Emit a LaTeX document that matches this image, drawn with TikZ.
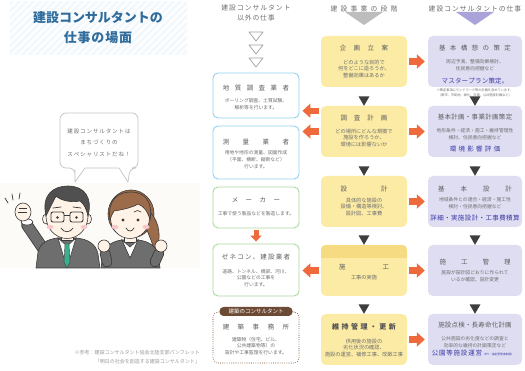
\documentclass[tikz,border=0pt]{standalone}
\usepackage{fontspec}
\setmainfont{Noto Sans CJK JP}
\usetikzlibrary{arrows.meta,calc}

\definecolor{ttlblue}{HTML}{2F6C9C}
\definecolor{stripeblue}{HTML}{F2F8FC}
\definecolor{hdrgray}{HTML}{6E6E6E}
\definecolor{ttlgray}{HTML}{5E5E5E}
\definecolor{smgray}{HTML}{6E6E6E}
\definecolor{ylw}{HTML}{FCEBA4}
\definecolor{ylwdark}{HTML}{F6DB82}
\definecolor{prp}{HTML}{DFDDF2}
\definecolor{prptri}{HTML}{A9A3D9}
\definecolor{graytri}{HTML}{BDBDBD}
\definecolor{darktri}{HTML}{3E3E3E}
\definecolor{orng}{HTML}{EE6A3D}
\definecolor{skyline}{HTML}{90D2F0}
\definecolor{leafline}{HTML}{ACDA9C}
\definecolor{brownbd}{HTML}{9A7860}
\definecolor{browntag}{HTML}{6C4A34}
\definecolor{bluetxt}{HTML}{3A3AA6}
\definecolor{suit}{HTML}{6E6E6E}
\definecolor{inkline}{HTML}{3A3A3A}
\definecolor{skin}{HTML}{FFF2E6}
\definecolor{cheek}{HTML}{F8C8C8}
\definecolor{hairdark}{HTML}{505050}
\definecolor{hairbrown}{HTML}{9C6C4A}
\definecolor{tiegreen}{HTML}{3BAE8E}
\definecolor{bubbleline}{HTML}{C4C4C4}
\definecolor{notegray}{HTML}{9A9A9A}
\definecolor{band}{HTML}{FCFBF7}
\definecolor{ijigray}{HTML}{505050}

\newcommand\fsz[2]{\fontsize{#1}{#2}\selectfont}
% put a fixed gap between the characters of a word
\makeatletter
\newcommand\spreadtxt[2]{\def\spr@gap{\hspace{#1}}\spr@loop#2\relax}
\def\spr@loop#1#2{#1\ifx\relax#2\else\spr@gap\expandafter\spr@loop\fi#2}
\makeatother

\tikzset{
  hdr/.style={font=\fsz{6.8}{10}, text=hdrgray, inner sep=0pt, align=center},
  ttl/.style={font=\fsz{6.5}{8}, text=ttlgray, inner sep=0pt},
  small/.style={font=\fsz{4.8}{6.8}, text=smgray, inner sep=0pt, align=center},
  midsmall/.style={small, font=\fsz{5.2}{6.6}},
  bluelabel/.style={font=\fsz{6.5}{8}, text=bluetxt, inner sep=0pt},
  stagebox/.style={fill=ylw, rounded corners=5pt, minimum width=86pt, minimum height=51pt, inner sep=0pt},
  taskbox/.style={fill=prp, rounded corners=5pt, minimum width=94pt, minimum height=51pt, inner sep=0pt},
  otherbox/.style={draw, fill=white, line width=0.9pt, rounded corners=5pt, minimum width=86pt, inner sep=0pt},
  skybox/.style={otherbox, draw=skyline},
  leafbox/.style={otherbox, draw=leafline},
  blockarrow/.style={draw=orng, line width=6.5pt, -{Triangle[width=14pt,length=8pt]}, shorten <=2pt, shorten >=3pt},
  smallarrow/.style={draw=orng, line width=5pt, -{Triangle[width=11pt,length=6pt]}, shorten <=2pt, shorten >=2pt},
  downtri/.pic={\fill[darktri] (-5.5,-9.5) -- (5.5,-9.5) -- (0,0) -- cycle;},
  ink/.style={draw=inkline, line width=0.6pt},
}

\begin{document}
\begin{tikzpicture}[x=1pt,y=-1pt]
\useasboundingbox (0,0) rectangle (525,371);
\fill[white] (0,0) rectangle (525,371);

% ---------- title with striped background ----------
\begin{scope}
  \clip (10,2) rectangle (187,55);
  \foreach \i in {-60,-53,...,200} \draw[stripeblue, line width=2.5pt] (\i,60) -- (\i+60,0);
\end{scope}
\node[font=\fsz{13}{15}\bfseries, text=ttlblue, inner sep=0pt] (title1) at (98,18) {建設コンサルタントの};
\node[font=\fsz{13}{15}\bfseries, text=ttlblue, inner sep=0pt] (title2) at (98,38) {\spreadtxt{0.8pt}{仕事の場面}};

% ---------- column headers ----------
\fill[graytri] (345,12) -- (383,12) -- (364,25) -- cycle;
\fill[prptri] (456,12) -- (494,12) -- (475,25) -- cycle;
\node[hdr] (hdrL) at (256,13) {\spreadtxt{1pt}{建設コンサルタント}\\\spreadtxt{0.8pt}{以外の仕事}};
\node[hdr] (hdrM) at (364,9) {\spreadtxt{3.2pt}{建設事業の段階}};
\node[hdr] (hdrR) at (475,9) {\spreadtxt{1pt}{建設コンサルタントの仕事}};
\foreach \ty in {32,45,58}
  \draw[draw=gray!75, fill=white, line width=0.7pt, line join=round] (249,\ty) -- (263,\ty) -- (256,\ty+9) -- cycle;

% ---------- stages of a construction project ----------
\node[stagebox] (kikaku) at (364,61.5) {};
\node[stagebox] (chousa) at (364,131.5) {};
\node[stagebox] (sekkei) at (364,201.5) {};
\node[stagebox] (sekou)  at (364,270.5) {};
\node[stagebox] (iji)    at (364,339.5) {};
\begin{scope}
  \clip[rounded corners=5pt] (sekou.south west) rectangle (sekou.north east);
  \fill[ylwdark] (sekou.north west) rectangle ($(sekou.north east)+(0,13)$);
\end{scope}

\node[ttl] (kikakuT) at (364,48) {\spreadtxt{7.5pt}{企画立案}};
\node[midsmall] (kikakuB) at (364,69) {どのような目的で\\何をどこに造ろうか、\\整備効果はあるか};
\node[ttl] (chousaT) at (364,118) {\spreadtxt{7pt}{調査計画}};
\node[midsmall] (chousaB) at (364,138) {どの場所にどんな規模で\\施設を作ろうか、\\環境には影響ないか};
\node[ttl] (sekkeiT) at (364,189) {\spreadtxt{34pt}{設計}};
\node[midsmall] (sekkeiB) at (364,207) {具体的な施設の\\設備・構造等検討、\\設計図、工事費};
\node[ttl] (sekouT) at (364,267) {\spreadtxt{37pt}{施工}};
\node[midsmall] (sekouB) at (364,278) {工事の実施};
\node[ttl, font=\fsz{7}{8}\bfseries, text=ijigray] (ijiT) at (364,327) {\spreadtxt{2.5pt}{維持管理・更新}};
\node[midsmall] (ijiB) at (364,348) {供用後の施設の\\劣化状況の確認、\\施設の運営、補修工事、改築工事};

% ---------- consultant's work ----------
\node[taskbox] (kousou)  at (475,61.5) {};
\node[taskbox] (keikaku) at (475,131.5) {};
\node[taskbox] (kihon)   at (475,201.5) {};
\node[taskbox] (kanri)   at (475,270.5) {};
\node[taskbox] (tenken)  at (475,339.5) {};

\node[ttl] (kousouT) at (475,48) {\spreadtxt{4.4pt}{基本構想の策定}};
\node[small] (kousouB) at (475,65.5) {周辺予測、整備効果検討、\\住民意向把握など};
\node[bluelabel] (kousouL) at (475,81) {\spreadtxt{0.2pt}{マスタープラン策定。}};
\node[small, font=\fsz{3.2}{5.2}] (kousouN) at (475,92.5) {※策定事項にランドマーク等の計画を含めています。\\（都市、市街地、緑化、交通、公共施設計画など）};
\node[ttl] (keikakuT) at (475,117) {\spreadtxt{0.3pt}{基本計画・事業計画策定}};
\node[small] (keikakuB) at (475,134) {地形条件・経済・施工・維持管理性\\検討、住民意向把握など};
\node[bluelabel] (keikakuL) at (475,149) {\spreadtxt{2.3pt}{環境影響評価}};
\node[ttl] (kihonT) at (475,189) {\spreadtxt{16pt}{基本設計}};
\node[small] (kihonB) at (475,203) {地域条件との適合・経済・施工性\\検討・住民意向把握など};
\node[bluelabel] (kihonL) at (475,218) {\spreadtxt{0.4pt}{詳細・実施設計・工事費積算}};
\node[ttl] (kanriT) at (475,262) {\spreadtxt{15pt}{施工管理}};
\node[small] (kanriB) at (475,276) {施設が設計図どおりに作られて\\いるか確認、設計変更};
\node[ttl] (tenkenT) at (475,325) {\spreadtxt{0.2pt}{施設点検・長寿命化計画}};
\node[small] (tenkenB) at (475,342) {公共施設の劣化度などの調査と\\効率的な維持の計画策定など};
\node[bluelabel] (tenkenL) at (473,353) {\spreadtxt{0.8pt}{公園等施設運営}{\fsz{2.8}{4}（PFI・指定管理者制度）}};

% ---------- other trades ----------
\node[skybox, minimum height=45pt] (chishitsu) at (256,95.5) {};
\node[skybox, minimum height=53pt] (sokuryo) at (256,152.5) {};
\node[leafbox, minimum height=41pt] (maker) at (256,207.5) {};
\node[leafbox, minimum height=52pt] (zenecon) at (256,270) {};
\node[otherbox, draw=brownbd, line width=1.1pt, dash pattern=on 0.01pt off 2.2pt, line cap=round, minimum height=51pt] (kenchiku) at (256,337.5) {};
\node[fill=browntag, rounded corners=4pt, minimum width=73pt, minimum height=9pt, inner sep=0pt, text=white, font=\fsz{5.5}{6}] (tag) at (256,311.5) {建築のコンサルタント};

\node[ttl] (chishitsuT) at (256,88) {\spreadtxt{5.5pt}{地質調査業者}};
\node[small] (chishitsuB) at (256,104.5) {ボーリング調査、土質試験、\\解析等を行います。};
\node[ttl] (sokuryoT) at (256,142) {\spreadtxt{13.5pt}{測量業者}};
\node[small] (sokuryoB) at (256,159.5) {用地や地形の測量、図面作成\\（平面、横断、縦断など）\\行います。};
\node[ttl] (makerT) at (256,200) {\spreadtxt{7.5pt}{メーカー}};
\node[small] (makerB) at (256,214) {工事で使う製品などを製造します。};
\node[ttl] (zeneconT) at (256,257) {\spreadtxt{1.2pt}{ゼネコン、建設業者}};
\node[small] (zeneconB) at (256,278) {道路、トンネル、橋梁、河川、\\公園などの工事を\\行います。};
\node[ttl] (kenchikuT) at (256,327) {\spreadtxt{8.5pt}{建築事務所}};
\node[small] (kenchikuB) at (256,346) {建築物（住宅、ビル、\\公共建築物等）の\\設計や工事監理を行います。};

% ---------- flow between stages ----------
\pic at (chousa.north) {downtri};
\pic at (sekkei.north) {downtri};
\pic at (sekou.north) {downtri};
\pic at (iji.north) {downtri};
\pic at (keikaku.north) {downtri};
\pic at (kihon.north) {downtri};
\pic at (kanri.north) {downtri};
\pic at (tenken.north) {downtri};

\draw[blockarrow] (kikaku.east) -- (kousou.west);
\draw[blockarrow] (chousa.east) -- (keikaku.west);
\draw[blockarrow] (sekkei.east) -- (kihon.west);
\draw[blockarrow] (sekou.east) -- (kanri.west);
\draw[blockarrow] (iji.east) -- (tenken.west);
\coordinate (chousaUp) at ($(chousa.north west)+(0,5)$);
\draw[blockarrow] (chousaUp) -- (chishitsu.east |- chousaUp);
\draw[blockarrow] (chousa.west) -- (sokuryo.east |- chousa.west);
\draw[blockarrow] (sekou.west) -- (zenecon.east |- sekou.west);
\draw[smallarrow] (maker.south) -- (zenecon.north);

% ---------- speech bubble ----------
\draw[bubbleline, fill=white, line width=0.7pt, line join=round, rounded corners=6pt]
  (60,113) -- (138,113) -- (138,168) -- (130,168) [sharp corners] -- (128,182) -- (119,168)
  -- (85,168) -- (75,182) -- (75,170) [rounded corners=6pt] -- (75,168) -- (60,168) -- cycle;
\node[font=\fsz{5.5}{11.5}, text=smgray, align=center, inner sep=0pt] (bubbletext) at (99,142.5)
  {\spreadtxt{0.9pt}{建設コンサルタントは}\\\spreadtxt{0.9pt}{まちづくりの}\\\spreadtxt{0.9pt}{スペシャリストだね！}};

% ---------- two consultants ----------
\fill[band] (0,183) rectangle (200,268);

% man: raised arm and fist
\draw[inkline, line width=11.6pt, line cap=round] (44,250) -- (27,225);
\draw[suit, line width=10pt, line cap=round] (44,250) -- (27,225);
\draw[ink, fill=white] (27,222) ellipse (6 and 3);
\draw[ink, fill=skin] (23,212) ellipse (8 and 9);
\draw[ink] (19,208) -- (27,208) (18,212) -- (27,212);
\draw[inkline, line width=0.7pt, line cap=round] (8,203) -- (5,198) (13,200) -- (12,194) (19,199) -- (20,193);
% man: body
\draw[ink, fill=suit] (36,268) -- (38,252) .. controls (40,243) and (48,239) .. (58,238) -- (76,238) .. controls (88,239) and (96,244) .. (98,254) -- (100,268) -- cycle;
\draw[ink, fill=skin] (61,228) rectangle (73,240);
\draw[ink, fill=white] (58,238) -- (67,246) -- (76,238) -- (70,258) -- (64,258) -- cycle;
\draw[inkline, line width=0.4pt, fill=tiegreen] (65,244) -- (69,244) -- (70,262) -- (67,268) -- (64,262) -- cycle;
% man: head
\draw[ink, fill=skin] (46,219) ellipse (3.5 and 5);
\draw[ink, fill=skin] (88,219) ellipse (3.5 and 5);
\draw[ink, fill=skin] (67,216) ellipse (21 and 22.5);
\draw[ink, fill=hairdark] (46,216) .. controls (41,194) and (54,186) .. (68,186) .. controls (84,186) and (93,197) .. (88,216) .. controls (86,208) and (84,204) .. (80,201) .. controls (70,203) and (60,200) .. (56,196) .. controls (53,202) and (50,208) .. (46,216) -- cycle;
\draw[inkline, line width=0.9pt, rounded corners=2pt] (51,212) rectangle (64,222) (70,212) rectangle (83,222);
\draw[inkline, line width=0.8pt] (64,215.5) -- (70,215.5);
\fill[inkline] (57.5,217.5) circle (1.3) (76.5,217.5) circle (1.3);
\draw[inkline, line width=0.7pt, line cap=round] (53,208) -- (61,207) (73,207) -- (81,208);
\fill[cheek] (50,227) ellipse (3.5 and 2.2) (84,227) ellipse (3.5 and 2.2);
\draw[inkline, line width=0.7pt, line cap=round] (61,228) .. controls (64,233) and (70,233) .. (73,228);

% woman: hair behind the head
\draw[ink, fill=hairbrown] (131,214) ellipse (23 and 24);
\draw[ink, fill=hairbrown] (150,212) .. controls (160,222) and (162,240) .. (155,252) .. controls (152,242) and (148,232) .. (144,224) -- cycle;
% woman: body and fists
\draw[ink, fill=suit] (101,268) -- (103,254) .. controls (105,246) and (113,241) .. (122,240) -- (138,240) .. controls (148,241) and (156,246) .. (158,254) -- (160,268) -- cycle;
\draw[ink, fill=skin] (124,232) rectangle (136,242);
\draw[ink, fill=white] (122,240) -- (130,247) -- (138,240) -- (130,258) -- cycle;
\draw[inkline, line width=10.6pt, line cap=round] (107,262) -- (105,253);
\draw[suit, line width=9pt, line cap=round] (107,262) -- (105,253);
\draw[inkline, line width=10.6pt, line cap=round] (155,262) -- (159,253);
\draw[suit, line width=9pt, line cap=round] (155,262) -- (159,253);
\draw[ink, fill=skin] (104,246) circle (6);
\draw[ink, fill=skin] (161,246) circle (6);
% woman: face
\draw[ink, fill=skin] (130,218) ellipse (19.5 and 20.5);
\draw[ink, fill=hairbrown] (110,220) .. controls (107,200) and (118,192) .. (131,192) .. controls (145,192) and (153,202) .. (150,220) .. controls (148,212) and (144,206) .. (138,204) .. controls (132,208) and (120,210) .. (114,211) .. controls (112,214) and (111,217) .. (110,220) -- cycle;
\fill[inkline] (123,220) circle (1.6) (138,220) circle (1.6);
\draw[inkline, line width=0.6pt, line cap=round] (134,212) .. controls (136,210) and (139,210) .. (141,212);
\fill[cheek] (115,227) ellipse (3.5 and 2.2) (146,227) ellipse (3.5 and 2.2);
\draw[inkline, line width=0.7pt, line cap=round] (126,228) .. controls (128,232) and (132,232) .. (134,228);

% ---------- source note ----------
\node[font=\fsz{5}{9}, text=notegray, align=right, inner sep=0pt, anchor=east] (refnote) at (200,357.5)
  {※参考：建設コンサルタント協会北陸支部パンフレット\\「明日の社会を創造する建設コンサルタント」};
\end{tikzpicture}
\end{document}
